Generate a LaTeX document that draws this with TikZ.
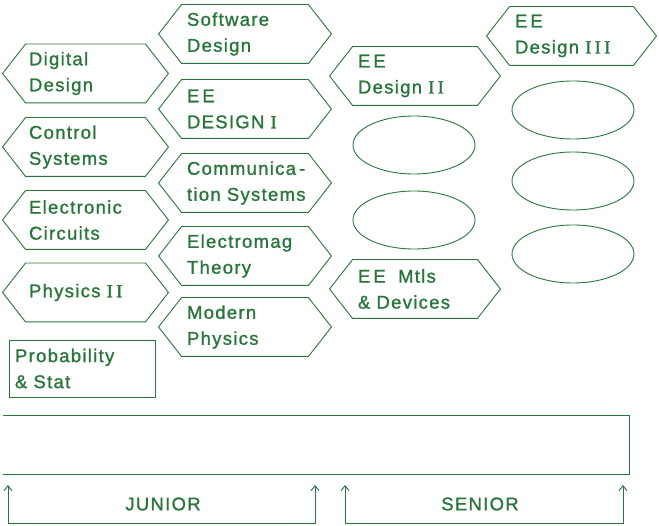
\documentclass[tikz,border=0pt]{standalone}
\usepackage{fontspec}
\setmainfont{Liberation Sans}[LetterSpace=7, FakeBold=1.2]
\newfontfamily\numfont{Liberation Serif}[LetterSpace=18, FakeBold=1.5]
\usetikzlibrary{arrows.meta}
\usetikzlibrary{shapes.geometric}
\definecolor{ink}{RGB}{40,118,58}
\newcommand{\rn}[1]{{\numfont #1}}

\begin{document}
\begin{tikzpicture}[x=1pt, y=-1pt, line width=0.9pt, draw=ink, text=ink,
		course/.style={rectangle, inner xsep=5pt, inner ysep=0pt, text width=#1, minimum height=58pt, align=left, font=\fontsize{18.5}{26}\selectfont},
		blank/.style={ellipse, draw, minimum width=122pt, minimum height=58pt},
		year/.style={font=\fontsize{18.5}{22}\selectfont}]
	\useasboundingbox (0,0) rectangle (659,526);

	% first column
	\node[course=113pt, inner xsep=3pt] (digital) at (85.5,73.5) {Digital\\Design};
	\node[course=113pt, inner xsep=3pt] (control) at (85.5,147) {Control\\Systems};
	\node[course=113pt, inner xsep=3pt] (electronic) at (85.5,220) {Electronic\\Circuits};
	\node[course=113pt, inner xsep=3pt] (physicsII) at (85.5,292.5) {Physics \rn{II}};
	\node[course=134pt, draw, minimum height=57pt, inner xsep=6pt] (prob) at (82,368.5) {Probability\\\& Stat};

	% second column
	\node[course=116pt] (software) at (245,34) {Software\\Design};
	\node[course=116pt] (eeI) at (245,109) {E\,E\\DESIGN \rn{I}};
	\node[course=116pt] (comm) at (245,183) {\mbox{Communica\,-}\\\mbox{tion Systems}};
	\node[course=116pt] (emag) at (245,256) {Electromag\\Theory};
	\node[course=116pt] (modern) at (245,327) {Modern\\Physics};

	% third and fourth column
	\node[course=114pt] (eeII) at (415,76) {E\,E\\Design \rn{II}};
	\node[course=114pt] (mtls) at (415,289) {E\,E\ \ Mtls\\\& Devices};
	\node[course=113pt] (eeIII) at (571.5,36) {E\,E\\Design \rn{III}};

	\node[blank] (open31) at (414,145) {};
	\node[blank] (open32) at (414,220) {};
	\node[blank] (open41) at (573,110) {};
	\node[blank] (open42) at (573,181) {};
	\node[blank] (open43) at (573,254) {};

	% pointed ends of the course boxes
	\foreach \n in {digital,control,electronic,physicsII,software,eeI,comm,emag,modern,eeII,mtls,eeIII}
		\draw (\n.north west) -- (\n.north east) -- ([xshift=23pt]\n.east) -- (\n.south east) -- (\n.south west) -- ([xshift=-23pt]\n.west) -- cycle;

	% time line
	\draw (3,415) -| (629,474) -- (3,474);

	\coordinate (juniorL) at (8,485);
	\coordinate (juniorR) at (315,485);
	\coordinate (seniorL) at (345,485);
	\coordinate (seniorR) at (623,485);
	\draw[{Straight Barb[length=5pt,width=8pt]}-{Straight Barb[length=5pt,width=8pt]}] (juniorL) -- ++(0,38) -| (juniorR);
	\draw[{Straight Barb[length=5pt,width=8pt]}-{Straight Barb[length=5pt,width=8pt]}] (seniorL) -- ++(0,38) -| (seniorR);
	\node[year] (junior) at (163,504) {JUNIOR};
	\node[year] (senior) at (480,504) {SENIOR};
\end{tikzpicture}
\end{document}
